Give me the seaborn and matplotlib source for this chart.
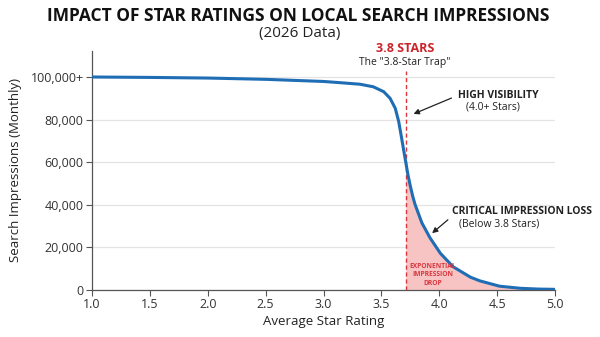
import matplotlib
matplotlib.use("Agg")
import matplotlib.pyplot as plt
import seaborn as sns
import pandas as pd

ratings = [1.0, 1.5, 2.0, 2.5, 2.8, 3.0, 3.15, 3.315, 3.43, 3.52, 3.575, 3.62,
           3.65, 3.67, 3.69, 3.71, 3.73, 3.75, 3.77, 3.79, 3.85, 3.92, 4.01,
           4.12, 4.27, 4.35, 4.52, 4.7, 4.85, 5.0]
impressions = [100000, 99800, 99500, 98900, 98300, 97900, 97300, 96600, 95400,
               93100, 90000, 85300, 79000, 72800, 66500, 60200, 54000, 48800,
               44200, 40300, 31500, 24500, 17200, 10900, 6000, 4300, 1800, 800,
               450, 300]
x_ticks = [1.0, 1.5, 2.0, 2.5, 3.0, 3.5, 4.0, 4.5, 5.0]
y_ticks = [0, 20000, 40000, 60000, 80000, 100000]
y_tick_labels = ["0", "20,000", "40,000", "60,000", "80,000", "100,000+"]
threshold = 3.71

df = pd.DataFrame({"rating": ratings, "impressions": impressions})

sns.set_theme(style="white")
plt.rcParams["font.family"] = ["Open Sans", "DejaVu Sans"]

fig = plt.figure(figsize=(6.0, 3.37), dpi=100)
ax = fig.add_axes([92/600, 1-290/337, (555-92)/600, (290-51)/337])

ax.grid(axis="y", color="#e4e4e4", linewidth=0.9)
ax.set_axisbelow(True)

sub = df[df["rating"] >= threshold]
ax.fill_between(sub["rating"], 0, sub["impressions"], color="#f8c3c3", linewidth=0, zorder=1)

sns.lineplot(data=df, x="rating", y="impressions", ax=ax, color="#1f6db4",
             linewidth=2.2, zorder=3, solid_joinstyle="round", solid_capstyle="round")

ax.axvline(threshold, ymin=0, ymax=0.915, color="#d9363e", linestyle=(0, (3, 2)),
           linewidth=1.0, zorder=2)

ax.set_xlim(1.0, 5.0)
ax.set_ylim(0, 112200)
ax.set_xticks(x_ticks)
ax.set_xticklabels([f"{t:.1f}" for t in x_ticks], fontsize=9, color="#333333")
ax.set_yticks(y_ticks)
ax.set_yticklabels(y_tick_labels, fontsize=9, color="#333333")
ax.tick_params(axis="both", direction="out", length=4, width=0.8, color="#555555",
               bottom=True, left=True, pad=2)

for s in ["top", "right"]:
    ax.spines[s].set_visible(False)
for s in ["left", "bottom"]:
    ax.spines[s].set_color("#555555")
    ax.spines[s].set_linewidth(0.9)

ax.set_xlabel("Average Star Rating", fontsize=9.5, color="#222222", labelpad=3)
ax.set_ylabel("Search Impressions (Monthly)", fontsize=9.5, color="#222222", labelpad=6)

fig.text(0.497, 1-16/337, "IMPACT OF STAR RATINGS ON LOCAL SEARCH IMPRESSIONS",
         ha="center", va="center", fontsize=12.5, fontweight="bold", color="#111111")
fig.text(0.5, 1-34/337, "(2026 Data)", ha="center", va="center", fontsize=11,
         color="#222222")

ax.annotate("3.8 STARS", xy=(405/600, 1-49/337), xycoords="figure fraction",
            ha="center", va="center", fontsize=9, fontweight="bold", color="#cc2229")
ax.annotate('The "3.8-Star Trap"', xy=(405/600, 1-62/337), xycoords="figure fraction",
            ha="center", va="center", fontsize=7.5, color="#222222")

# High visibility
ax.annotate("", xy=(411/600, 1-115/337), xytext=(454/600, 1-97/337),
            xycoords="figure fraction", textcoords="figure fraction",
            arrowprops=dict(arrowstyle="-|>", color="#222222", lw=0.9,
                            mutation_scale=8))
fig.text(458/600, 1-95/337, "HIGH VISIBILITY", ha="left", va="center",
         fontsize=7.5, fontweight="bold", color="#222222")
fig.text(466/600, 1-107/337, "(4.0+ Stars)", ha="left", va="center",
         fontsize=7.5, color="#222222")

# Critical loss
ax.annotate("", xy=(430/600, 1-235/337), xytext=(450/600, 1-218/337),
            xycoords="figure fraction", textcoords="figure fraction",
            arrowprops=dict(arrowstyle="-|>", color="#222222", lw=0.9,
                            mutation_scale=8))
fig.text(452/600, 1-212/337, "CRITICAL IMPRESSION LOSS", ha="left", va="center",
         fontsize=7.5, fontweight="bold", color="#222222")
fig.text(459/600, 1-224/337, "(Below 3.8 Stars)", ha="left", va="center",
         fontsize=7.5, color="#222222")

fig.text(433/600, 1-275/337, "EXPONENTIAL\nIMPRESSION\nDROP", ha="center",
         va="center", fontsize=4.8, fontweight="bold", color="#d9363e",
         linespacing=1.25)

fig.savefig("out.png", dpi=100)
